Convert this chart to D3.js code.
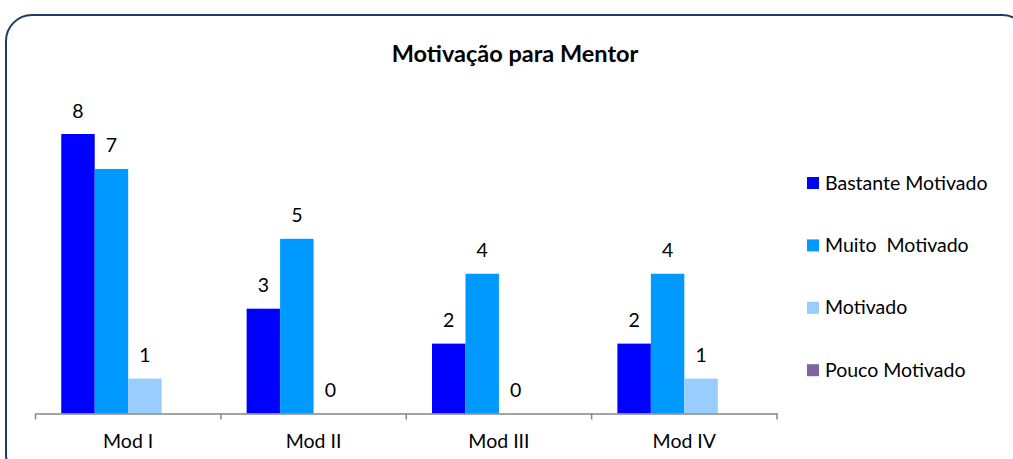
<!DOCTYPE html>
<html><head><meta charset="utf-8">
<script src="https://cdn.jsdelivr.net/npm/d3@7"></script>
<style>body{margin:0;background:#fff}svg{display:block}text{font-family:Lato,"Open Sans",sans-serif;fill:#000}</style>
</head><body>
<svg id="c" width="1013" height="459"></svg>
<script>
const title = "Motivação para Mentor";
const categories = ["Mod I", "Mod II", "Mod III", "Mod IV"];
const seriesNames = ["Bastante Motivado", "Muito  Motivado", "Motivado", "Pouco Motivado"];
const seriesColors = ["#0000FF", "#0099FF", "#99CCFF", "#8064A2"];
const bastante = [8, 3, 2, 2];
const muito = [7, 5, 4, 4];
const motivado = [1, 0, 0, 1];
const pouco = [null, null, null, null];
const seriesValues = [bastante, muito, motivado, pouco];

const svg = d3.select("#c");
svg.append("rect").attr("x", 6).attr("y", 15).attr("width", 1022).attr("height", 465)
  .attr("rx", 26).attr("fill", "none").attr("stroke", "#1F3B63").attr("stroke-width", 2);

svg.append("text").attr("x", 515).attr("y", 62).attr("text-anchor", "middle")
  .style("font-weight", "bold").style("font-size", "23.5px").text(title);

const x0 = d3.scaleBand().domain(categories).range([35.5, 777]).paddingInner(0).paddingOuter(0);
const x1 = d3.scaleBand().domain(d3.range(4)).range([0, x0.bandwidth()]).paddingOuter(0.77).paddingInner(0);
const y = d3.scaleLinear().domain([0, 8]).range([413.5, 134]);

const g = svg.append("g");
categories.forEach((c, ci) => {
  seriesValues.forEach((vals, si) => {
    const v = vals[ci];
    if (v === null) return;
    const bx = x0(c) + x1(si);
    if (v > 0) {
      g.append("rect").attr("x", bx).attr("y", y(v)).attr("width", x1.bandwidth())
        .attr("height", y(0) - y(v)).attr("fill", seriesColors[si]);
    }
    g.append("text").attr("x", bx + x1.bandwidth() / 2).attr("y", y(v) - 16.5)
      .attr("text-anchor", "middle").style("font-size", "19.5px").text(v);
  });
});

const axis = svg.append("g").attr("transform", "translate(0,413.5)")
  .call(d3.axisBottom(x0).tickSize(0).tickFormat(""));
axis.select(".domain").attr("stroke", "#868686").attr("stroke-width", 1.5);
const tickPos = categories.map(c => x0(c)).concat([x0(categories[3]) + x0.bandwidth()]);
svg.append("g").selectAll("line").data(tickPos).join("line")
  .attr("x1", d => d).attr("x2", d => d).attr("y1", 413.5).attr("y2", 419.5)
  .attr("stroke", "#868686").attr("stroke-width", 1.5);
svg.append("g").selectAll("text").data(categories).join("text")
  .attr("x", d => x0(d) + x0.bandwidth() / 2).attr("y", 448)
  .attr("text-anchor", "middle").style("font-size", "19.5px").text(d => d);

const leg = svg.append("g");
seriesNames.forEach((n, i) => {
  const ly = 183 + i * 62.4;
  leg.append("rect").attr("x", 807).attr("y", ly - 6).attr("width", 12).attr("height", 12).attr("fill", seriesColors[i]);
  leg.append("text").attr("x", 825).attr("y", ly + 6.5).style("font-size", "19.5px")
    .style("white-space", "pre").attr("xml:space", "preserve").text(n);
});
</script>
</body></html>
